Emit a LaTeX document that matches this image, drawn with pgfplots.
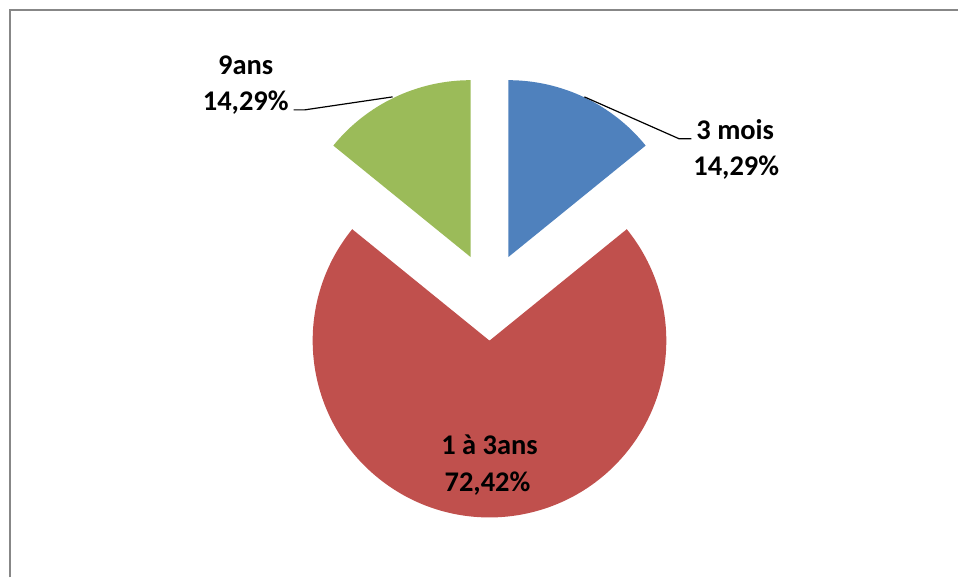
\documentclass[border=0pt]{standalone}
\usepackage{pgfplots}
\pgfplotsset{compat=1.18}
\usepackage{fontspec}
\setmainfont{Carlito}
\definecolor{sblue}{HTML}{4F81BD}
\definecolor{sred}{HTML}{C0504D}
\definecolor{sgreen}{HTML}{9BBB59}
\definecolor{frame}{HTML}{878787}
% data (percent)
\def\vA{14.29}% 3 mois
\def\vB{72.42}% 1 a 3ans
\def\vC{14.29}% 9ans
\pgfmathsetmacro\tot{\vA+\vB+\vC}
\pgfmathsetmacro\aA{90-360*\vA/\tot}% blue: aA .. 90
\pgfmathsetmacro\aC{90+360*\vC/\tot}% green: 90 .. aC
\pgfmathsetmacro\aB{\aA+360}% red: aC .. aB
\pgfmathsetmacro\mA{(\aA+90)/2}
\pgfmathsetmacro\mC{(\aC+90)/2}
\pgfmathsetmacro\mB{(\aC+\aB)/2}
\def\R{177bp}
\def\D{44bp}
\tikzset{lbl/.style={font=\fontsize{28.5bp}{34bp}\selectfont\bfseries, inner sep=0pt, anchor=base}}
\begin{document}
\begin{tikzpicture}
\begin{axis}[
  width=959bp, height=578bp, scale only axis,
  xmin=0, xmax=959, ymin=0, ymax=578,
  hide axis, clip=false,
]
\path (axis cs:0,0) rectangle (axis cs:959,578);
% frame (only left and top visible)
\addplot[frame, line width=2bp] coordinates {(10,0) (10,567.5) (959,567.5)};
% slices
\fill[sblue] (axis cs:490,281) ++(\mA:\D) -- +(\aA:\R) arc[start angle=\aA, end angle=90, radius=\R] -- cycle;
\fill[sgreen] (axis cs:490,281) ++(\mC:\D) -- +(90:\R) arc[start angle=90, end angle=\aC, radius=\R] -- cycle;
\fill[sred] (axis cs:490,281) ++(\mB:\D) -- +(\aC:\R) arc[start angle=\aC, end angle=\aB, radius=\R] -- cycle;
% leader lines
\addplot[black, line width=1.2bp] coordinates {(393,481) (305,468) (294,468)};
\addplot[black, line width=1.2bp] coordinates {(585,481) (680,439) (692,439)};
% labels
\node[lbl] at (axis cs:246,503) {9ans};
\node[lbl] at (axis cs:246,467) {14,29\%};
\node[lbl] at (axis cs:736,438) {3 mois};
\node[lbl] at (axis cs:737,402) {14,29\%};
\node[lbl] at (axis cs:490,123) {1 à 3ans};
\node[lbl] at (axis cs:488,86) {72,42\%};
\end{axis}
\end{tikzpicture}
\end{document}
